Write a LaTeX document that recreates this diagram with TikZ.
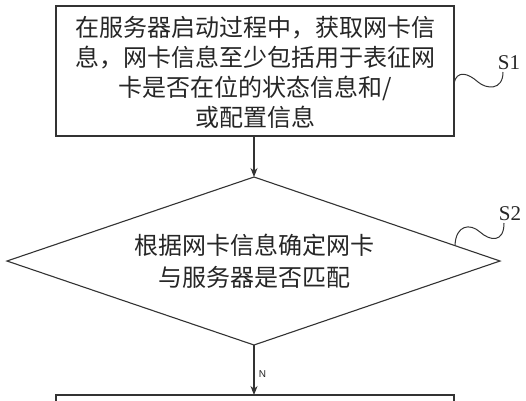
\documentclass[tikz,border=0pt]{standalone}
\usepackage{fontspec}
\setmainfont{Liberation Serif}
\newfontfamily\cjk{Noto Sans CJK SC}
\newfontfamily\lsans{Liberation Sans}
\usetikzlibrary{arrows.meta}
\begin{document}
\begin{tikzpicture}[x=1pt,y=-1pt,
  line width=1pt,
  edge/.style={draw=black!80,line width=1.1pt,-{Stealth[length=9pt,width=7pt]}},
  boxst/.style={draw=black!80,line width=1.1pt},
  txt/.style={font=\cjk\fontsize{24}{30}\selectfont,text=black!85,align=center},
  lbl/.style={font=\fontsize{21}{22}\selectfont,text=black!85}]
\useasboundingbox (0,0) rectangle (526,400);
\fill[white] (0,0) rectangle (526,400);
% top box
\draw[boxst] (56,6) rectangle (454,136);
\node[txt] (t1) at (255,72) {在服务器启动过程中，获取网卡信\\息，网卡信息至少包括用于表征网\\卡是否在位的状态信息和/\\或配置信息};
\coordinate (b1) at (254,136);
% diamond
\coordinate (dt) at (254,177);
\coordinate (dr) at (500,261);
\coordinate (db) at (254,345);
\coordinate (dl) at (7,261);
\draw[boxst] (dt) -- (dr) -- (db) -- (dl) -- cycle;
\node[txt,font=\cjk\fontsize{24}{32}\selectfont] (t2) at (254,261) {根据网卡信息确定网卡\\与服务器是否匹配};
% bottom box
\draw[boxst] (56,395) rectangle (454,430);
\coordinate (b3) at (254,395);
% arrows
\draw[edge] (b1) -- (dt);
\draw[edge] (db) -- node[right,font=\lsans\fontsize{10}{12}\selectfont,text=black!85,xshift=1pt,yshift=-4pt] (nl) {N} (b3);
% S1
\node[lbl] (s1) at (509,63) {S1};
\coordinate (w1) at (454,83);
\draw[draw=black!80,line width=1pt] (w1) .. controls (457,70) and (468,73) .. (478,82) .. controls (486,89) and (503,91) .. (503,72);
% S2
\node[lbl] (s2) at (510,214) {S2};
\coordinate (w2) at (455,245);
\draw[draw=black!80,line width=1pt] (w2) .. controls (456,225) and (470,223) .. (480,232) .. controls (490,241) and (504,243) .. (504,223);
\end{tikzpicture}
\end{document}
